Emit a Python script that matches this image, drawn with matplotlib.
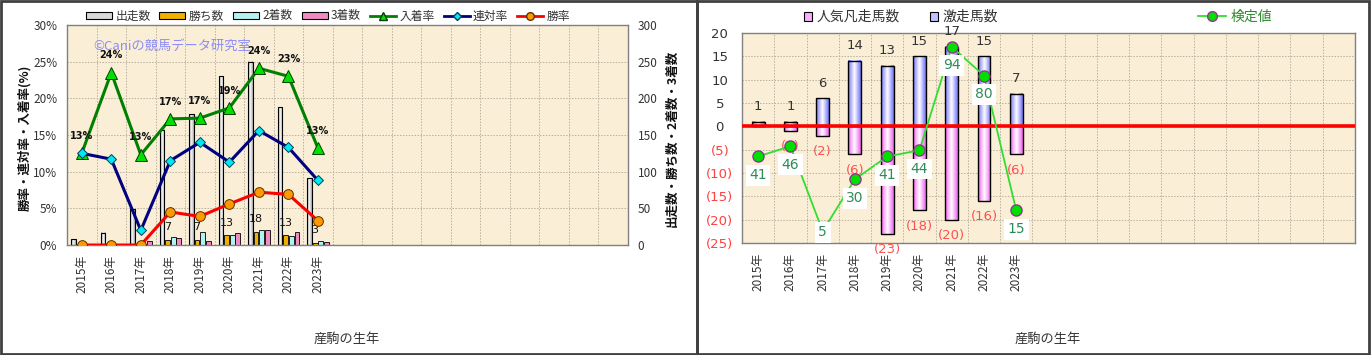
import numpy as np
import matplotlib
matplotlib.use("Agg")
import matplotlib.pyplot as plt
from matplotlib.patches import Rectangle, Patch
from matplotlib.lines import Line2D
from matplotlib.colors import LinearSegmentedColormap

plt.rcParams['font.family'] = ['Noto Sans CJK JP', 'DejaVu Sans']

# ---------------- data ----------------
years = ["2015年", "2016年", "2017年", "2018年", "2019年", "2020年", "2021年", "2022年", "2023年"]
starters = [8, 17, 49, 157, 178, 230, 250, 188, 91]          # 出走数
wins = [0, 0, 0, 7, 7, 13, 18, 13, 3]                         # 勝ち数
seconds = [1, 2, 1, 11, 18, 13, 21, 12, 5]                    # 2着数
thirds = [0, 2, 5, 9, 6, 17, 21, 18, 4]                       # 3着数
place_rate = [12.5, 23.5, 12.3, 17.2, 17.3, 18.7, 24.1, 23.0, 13.2]   # 入着率
quinella_rate = [12.5, 11.7, 2.0, 11.5, 14.0, 11.3, 15.6, 13.3, 8.8]  # 連対率
win_rate = [0.0, 0.0, 0.0, 4.5, 3.9, 5.6, 7.2, 6.9, 3.3]             # 勝率
place_labels = ["13%", "24%", "13%", "17%", "17%", "19%", "24%", "23%", "13%"]

upset = [1, 1, 6, 14, 13, 15, 17, 15, 7]          # 激走馬数
flop = [0, 1, 2, 6, 23, 18, 20, 16, 6]            # 人気凡走馬数
test_value = [41, 46, 5, 30, 41, 44, 94, 80, 15]  # 検定値

N_SLOTS = 19
W, H = 1371, 355
BG = '#FAEFD6'
TXT = '#333333'
GRID = '#B8B0A0'

fig = plt.figure(figsize=(W / 100, H / 100), dpi=100)
fig.patch.set_facecolor('white')

def fx(px):
    return px / W

def fy(py):
    return 1 - py / H

# panel borders
fig.add_artist(Rectangle((fx(1), fy(354)), fx(696), 353 / H, transform=fig.transFigure,
                         fill=False, edgecolor='#404040', lw=2))
fig.add_artist(Rectangle((fx(697), fy(354)), fx(672), 353 / H, transform=fig.transFigure,
                         fill=False, edgecolor='#404040', lw=2))

def grad_bars(ax, bars, colors, zorder):
    cmap = LinearSegmentedColormap.from_list('g', colors)
    g = np.linspace(0, 1, 64).reshape(1, -1)
    for p in bars:
        x0, y0 = p.get_xy()
        w, h = p.get_width(), p.get_height()
        if h == 0:
            continue
        ax.imshow(g, extent=[x0, x0 + w, y0, y0 + h], cmap=cmap, aspect='auto',
                  zorder=zorder - 0.1, interpolation='bicubic')
        p.set_facecolor('none')

x = np.arange(len(years))

# ================= LEFT PANEL =================
axL = fig.add_axes([fx(67), fy(245), fx(628 - 67), (245 - 25) / H])
axL2 = axL.twinx()
axL.set_facecolor(BG)
axL.set_xlim(-0.5, N_SLOTS - 0.5)
axL.set_ylim(0, 300)
for v in np.arange(-0.5, N_SLOTS, 1.0):
    axL.axvline(v, color=GRID, lw=0.7, ls=(0, (1.5, 1.5)), zorder=0.5)
for v in range(50, 300, 50):
    axL.axhline(v, color=GRID, lw=0.7, ls=(0, (1.5, 1.5)), zorder=0.5)

bw, sp = 0.16, 0.19
b1 = axL.bar(x - 1.5 * sp, starters, bw, edgecolor='black', lw=0.8, zorder=2)
grad_bars(axL, b1, ['#A0A0A0', '#FFFFFF', '#A0A0A0'], 2)
axL.bar(x - 0.5 * sp, wins, bw, color='#F0B000', edgecolor='black', lw=0.6, zorder=2)
axL.bar(x + 0.5 * sp, seconds, bw, color='#B4F2F2', edgecolor='black', lw=0.6, zorder=2)
axL.bar(x + 1.5 * sp, thirds, bw, color='#F08CC0', edgecolor='black', lw=0.6, zorder=2)
axL.set_xlim(-0.5, N_SLOTS - 0.5)
axL.set_ylim(0, 300)
for xi, w in zip(x, wins):
    if w > 0:
        axL.annotate(str(w), (xi - 0.5 * sp, w), xytext=(0, 9), textcoords='offset points',
                     ha='center', va='center', fontsize=8, color='#111111',
                     family=['DejaVu Sans'], zorder=3)

axL.yaxis.tick_right()
axL.set_yticks(range(0, 301, 50))
axL.tick_params(axis='y', length=0, pad=7, labelsize=8.5, labelcolor=TXT,
                left=False, labelleft=False, right=True, labelright=True)
axL.set_xticks(x)
axL.set_xticklabels(years, rotation=90, fontsize=8.5, color=TXT)
axL.tick_params(axis='x', length=0, pad=7)
for s in axL.spines.values():
    s.set_color('#808080')
    s.set_linewidth(1)

axL2.yaxis.tick_left()
axL2.set_ylim(0, 30)
axL2.set_yticks(range(0, 31, 5))
axL2.set_yticklabels([f"{v}%" for v in range(0, 31, 5)])
axL2.tick_params(axis='y', length=0, pad=7, labelsize=8.5, labelcolor=TXT,
                 right=False, labelright=False, left=True, labelleft=True)
for s in axL2.spines.values():
    s.set_visible(False)
axL2.plot(x, place_rate, color='#008000', lw=2.2, marker='^', ms=8,
          mfc='#00E000', mec='#004000', mew=0.7, zorder=3)
axL2.plot(x, quinella_rate, color='#000080', lw=2.2, marker='D', ms=5.5,
          mfc='#00E8F0', mec='#004060', mew=0.7, zorder=3)
axL2.plot(x, win_rate, color='#FF0000', lw=2.2, marker='o', ms=7,
          mfc='#FF9900', mec='#603000', mew=0.7, zorder=3)
for xi, v, lab in zip(x, place_rate, place_labels):
    axL2.annotate(lab, (xi, v), xytext=(0, 12.5), textcoords='offset points',
                  ha='center', va='center', fontsize=7, fontweight='bold',
                  color='#111111', family=['DejaVu Sans'], zorder=4)
axL2.set_xlim(-0.5, N_SLOTS - 0.5)

axL.text(0.046, 0.905, "©Caniの競馬データ研究室", transform=axL.transAxes,
         fontsize=9.5, color='#8C8CF5', ha='left', va='center', zorder=3)

fig.text(fx(25), fy(138), "勝率・連対率・入着率(%)", rotation=90, ha='center', va='center',
         fontsize=9, fontweight='bold', color='#111111')
fig.text(fx(672), fy(138), "出走数・勝ち数・2着数・3着数", rotation=90, ha='center', va='center',
         fontsize=9, fontweight='bold', color='#111111')
fig.text(fx(347), fy(339), "産駒の生年", ha='center', va='center', fontsize=9.5, color=TXT)

hL = [
    Patch(facecolor='#D8D8D8', edgecolor='black', lw=0.8),
    Patch(facecolor='#F0B000', edgecolor='black', lw=0.8),
    Patch(facecolor='#B4F2F2', edgecolor='black', lw=0.8),
    Patch(facecolor='#F08CC0', edgecolor='black', lw=0.8),
    Line2D([], [], color='#008000', lw=2, marker='^', ms=6, mfc='#00E000', mec='#004000'),
    Line2D([], [], color='#000080', lw=2, marker='D', ms=4, mfc='#00E8F0', mec='#004060'),
    Line2D([], [], color='#FF0000', lw=2, marker='o', ms=5.5, mfc='#FF9900', mec='#603000'),
]
labL = ["出走数", "勝ち数", "2着数", "3着数", "入着率", "連対率", "勝率"]
fig.legend(hL, labL, loc='center', bbox_to_anchor=(fx(328), fy(16)), ncol=7,
           frameon=False, fontsize=8.5, handlelength=2.2, handleheight=0.55,
           handletextpad=0.3, columnspacing=0.75, labelcolor=TXT)

# ================= RIGHT PANEL =================
axR = fig.add_axes([fx(742), fy(243), fx(1355 - 742), (243 - 33) / H])
axR2 = axR.twinx()
axR.set_facecolor(BG)
for v in np.arange(-0.5, N_SLOTS, 1.0):
    axR.axvline(v, color=GRID, lw=0.7, ls=(0, (1.5, 1.5)), zorder=0.5)
for v in range(-20, 20, 5):
    axR.axhline(v, color=GRID, lw=0.7, ls=(0, (1.5, 1.5)), zorder=0.5)

rw = 0.4
bp = axR.bar(x, upset, rw, edgecolor='black', lw=1.0, zorder=2)
grad_bars(axR, bp, ['#7070F8', '#FFFFFF', '#7070F8'], 2)
bn = axR.bar(x, [-v for v in flop], rw, edgecolor='black', lw=1.0, zorder=2)
grad_bars(axR, bn, ['#F060F0', '#FFFFFF', '#F060F0'], 2)
axR.axhline(0, color='#FF0000', lw=2.6, zorder=3)
axR.set_xlim(-0.5, N_SLOTS - 0.5)
axR.set_ylim(-25, 20)

for xi, v in zip(x, upset):
    axR.annotate(str(v), (xi, v), xytext=(0, 11), textcoords='offset points',
                 ha='center', va='center', fontsize=9.5, color=TXT, family=['DejaVu Sans'])
for xi, v in zip(x, flop):
    if v > 0:
        axR.annotate(f"({v})", (xi, -v), xytext=(0, -11.5), textcoords='offset points',
                     ha='center', va='center', fontsize=9.5, color='#FF5050',
                     family=['DejaVu Sans'])

yt = list(range(-25, 21, 5))
axR.set_yticks(yt)
axR.set_yticklabels([f"({-v})" if v < 0 else str(v) for v in yt], family=['DejaVu Sans'])
axR.tick_params(axis='y', length=0, pad=16, labelsize=9.5)
for lab, v in zip(axR.get_yticklabels(), yt):
    lab.set_horizontalalignment('center')
    lab.set_color('#FF4040' if v < 0 else TXT)
axR.set_xticks(x)
axR.set_xticklabels(years, rotation=90, fontsize=8.5, color=TXT)
axR.tick_params(axis='x', length=0, pad=7)
for s in axR.spines.values():
    s.set_color('#808080')
    s.set_linewidth(1)

axR2.set_ylim(-0.75, 100.6)
axR2.set_yticks([])
for s in axR2.spines.values():
    s.set_visible(False)
axR2.plot(x, test_value, color='#33DD33', lw=1.3, marker='o', ms=8,
          mfc='#00E000', mec='#8B3A8B', mew=1.0, zorder=3)
for xi, v in zip(x, test_value):
    off = -13.5 if v > 12 else -1
    axR2.annotate(str(v), (xi, v), xytext=(0, off), textcoords='offset points',
                  ha='center', va='center', fontsize=10, color='#2E8B57',
                  family=['DejaVu Sans'], zorder=5,
                  bbox=dict(boxstyle='square,pad=0.25', fc='white', ec='none'))
axR2.set_xlim(-0.5, N_SLOTS - 0.5)

fig.text(fx(1048), fy(339), "産駒の生年", ha='center', va='center', fontsize=9.5, color=TXT)

hR = [Patch(facecolor='#F8B0F8', edgecolor='black', lw=0.8),
      Patch(facecolor='#C0C0FF', edgecolor='black', lw=0.8)]
fig.legend(hR, ["人気凡走馬数", "激走馬数"], loc='center', bbox_to_anchor=(fx(901), fy(17)),
           ncol=2, frameon=False, fontsize=10, handlelength=0.6, handleheight=0.6,
           handletextpad=0.3, columnspacing=2.2, labelcolor=TXT)
hT = [Line2D([], [], color='#33DD33', lw=1.3, marker='o', ms=7, mfc='#00E000', mec='#8B3A8B')]
fig.legend(hT, ["検定値"], loc='center', bbox_to_anchor=(fx(1235), fy(17)),
           frameon=False, fontsize=10, handlelength=2.0, handletextpad=0.3,
           labelcolor='#2E8B2E')

fig.savefig("out.png", dpi=100)
